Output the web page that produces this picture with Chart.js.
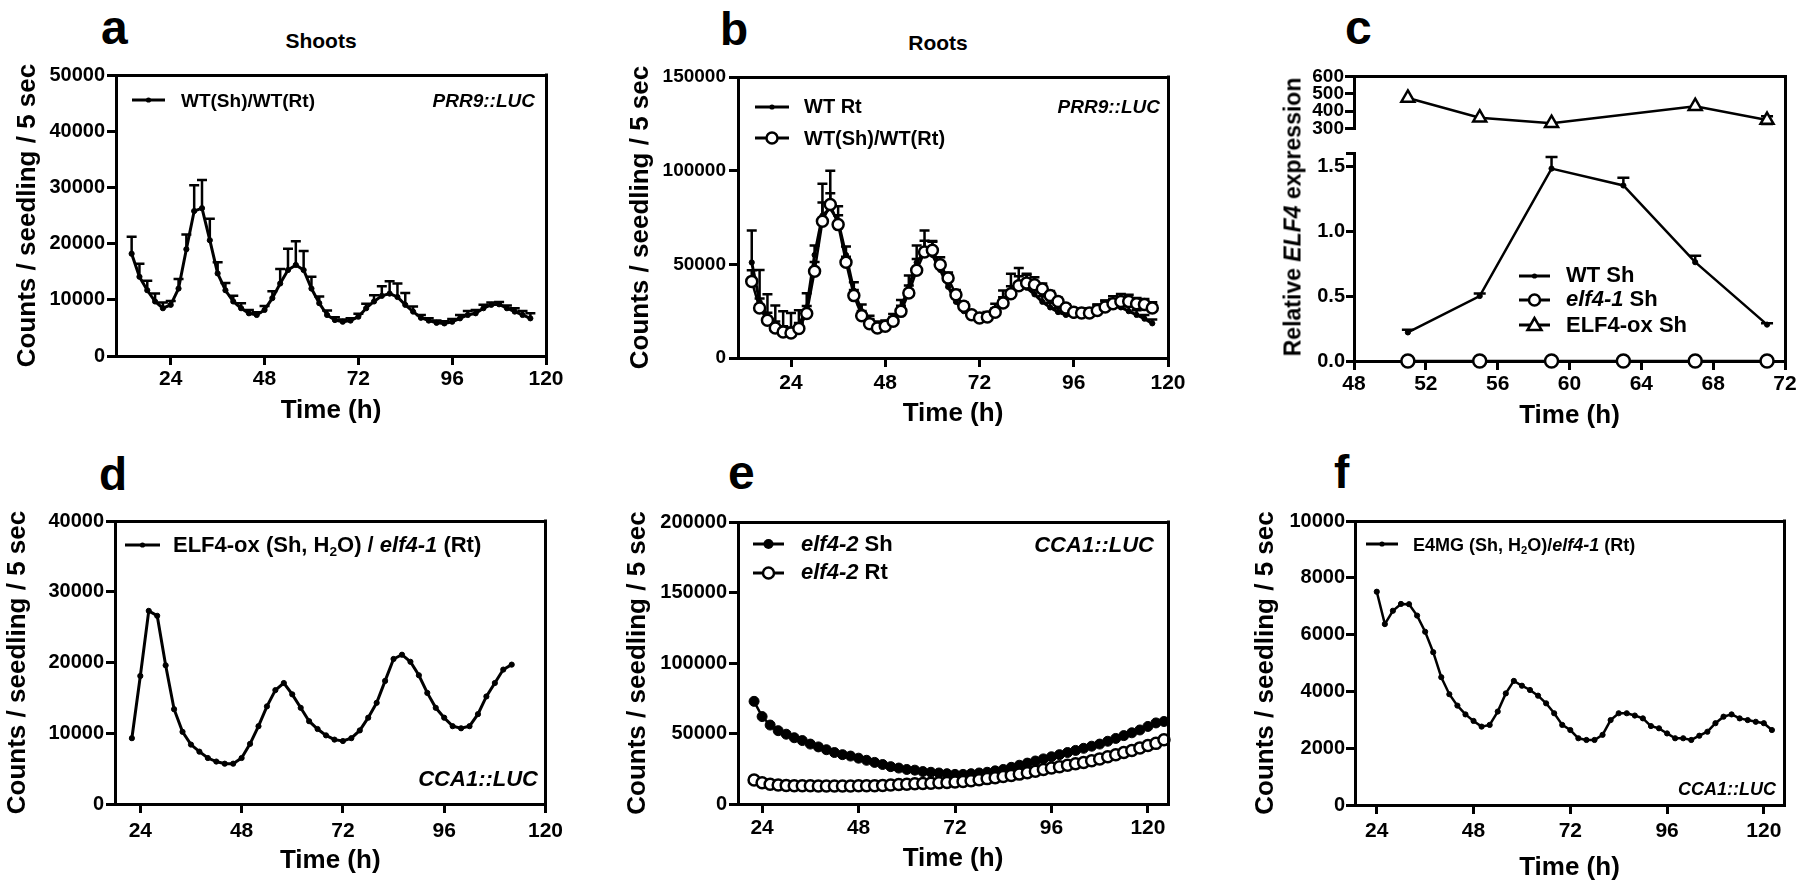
<!DOCTYPE html>
<html><head><meta charset="utf-8">
<script src="https://cdn.jsdelivr.net/npm/chart.js@4.4.1/dist/chart.umd.min.js"></script>
<style>
html,body{margin:0;padding:0;background:#fff;}
body{width:1800px;height:890px;position:relative;overflow:hidden;font-family:"Liberation Sans",Arial,Helvetica,sans-serif;font-weight:bold;color:#000;}
canvas{position:absolute;}
.t{position:absolute;white-space:nowrap;line-height:1;font-weight:bold;}
.t sub{font-size:0.62em;line-height:0;vertical-align:-0.3em;}
svg{position:absolute;overflow:visible;}
</style></head>
<body>
<script>
// ---------------- DATA ----------------
// Panel a: Shoots, PRR9::LUC
const aTime = [14,16,18,20,22,24,26,28,30,32,34,36,38,40,42,44,46,48,50,52,54,56,58,60,62,64,66,68,70,72,74,76,78,80,82,84,86,88,90,92,94,96,98,100,102,104,106,108,110,112,114,116];
const aWT = [18200,14100,11700,9700,8500,9100,12000,19000,25800,26300,20600,14700,11700,9700,8500,7600,7300,8200,10300,12900,15300,16200,15300,12000,9400,7300,6400,6100,6300,7000,8500,9700,10700,11100,10500,9100,7900,6800,6300,5900,5800,6100,6700,7300,7600,8500,9100,9200,8500,7900,7300,6700];
const aWTErr = [3000,2300,1700,1400,1000,700,1700,2600,4600,5000,3800,2000,1300,1000,900,600,500,700,1200,2600,3800,4200,3400,2100,1200,800,500,400,400,500,800,1100,1700,2200,2400,2100,900,500,400,400,400,500,600,700,600,600,400,400,500,600,700,900];

// Panel b: Roots, PRR9::LUC
const bTime = [14,16,18,20,22,24,26,28,30,32,34,36,38,40,42,44,46,48,50,52,54,56,58,60,62,64,66,68,70,72,74,76,78,80,82,84,86,88,90,92,94,96,98,100,102,104,106,108,110,112,114,116];
const bWTRt = [51000,30000,22000,17000,15000,14500,17000,27000,55000,76000,80000,73000,55000,36000,25000,19500,17000,17500,20500,27000,38000,51000,57000,55000,47000,38000,30000,25000,22000,21000,22500,26000,31000,36000,38500,37500,34000,30000,27000,24500,23000,22500,23000,24000,25500,27000,28000,27000,25000,23000,21000,18500];
const bWTRtErr = [17000,17000,12000,11000,10000,9500,8500,7500,5000,17000,20000,8000,4500,4500,3500,3000,2500,2500,3000,4000,6000,9000,11000,7000,4000,3000,2500,2000,1500,1500,2000,3000,5000,9000,9500,7000,4000,3000,2500,2000,2000,2000,2000,2500,3000,3500,3500,3000,2500,2500,2000,2000];
const bGraft = [40900,26700,20100,16000,13900,13300,15700,23700,46300,73000,81900,71200,51100,33300,22600,18300,16000,16900,19600,24900,34700,46800,56600,57500,49800,42700,33800,27600,23100,21400,21900,24400,29400,34300,38600,40000,39100,36800,33300,30200,26700,24400,24000,24000,25400,27200,29000,30200,30200,29000,28500,26700];
const bGraftErr = [6000,5000,4000,3500,3000,3000,3000,4000,5000,10000,6000,5000,3000,3000,2500,2500,2000,2000,2000,3000,4000,6000,6000,5000,4000,3000,2500,2000,1500,1500,1500,2000,3000,4000,5000,5000,4000,3000,2500,2000,2000,2000,2000,2500,3000,3500,4000,4000,3500,3000,3000,3000];

// Panel c: Relative ELF4 expression
const cTime = [51,55,59,63,67,71];
const cWTSh = [0.22,0.50,1.48,1.35,0.76,0.28];
const cWTShErr = [0.02,0.02,0.09,0.06,0.05,0.01];
const cElf41Sh = [0,0,0,0,0,0];
const cOxSh = [476,363,331,null,429,349];
const cOxShErr = [null,null,null,null,null,22];

// Panel d: ELF4-ox (Sh, H2O) / elf4-1 (Rt), CCA1::LUC
const dTime = [22,24,26,28,30,32,34,36,38,40,42,44,46,48,50,52,54,56,58,60,62,64,66,68,70,72,74,76,78,80,82,84,86,88,90,92,94,96,98,100,102,104,106,108,110,112];
const dGraft = [9300,18100,27300,26600,19600,13400,10200,8400,7400,6500,6000,5700,5700,6500,8500,11000,13800,16100,17100,15500,13600,11700,10600,9700,9100,8900,9300,10400,12200,14300,17400,20500,21100,20100,18200,15700,13600,12200,11000,10700,11000,12700,15200,17100,19000,19700];

// Panel e: elf4-2 Sh / Rt, CCA1::LUC
const eTime = [22,24,26,28,30,32,34,36,38,40,42,44,46,48,50,52,54,56,58,60,62,64,66,68,70,72,74,76,78,80,82,84,86,88,90,92,94,96,98,100,102,104,106,108,110,112,114,116,118,120,122,124];
const eSh = [72800,62000,56000,52000,49500,47000,45000,42500,40500,38500,36500,35000,34000,32500,31000,29500,28000,26500,25500,24500,24000,23000,22500,22000,21500,21000,21000,21500,22000,22500,23500,24500,26000,27500,29000,30500,32000,33500,35000,36500,38000,39500,41000,42500,44500,46500,48500,50500,52500,55000,57500,58500];
const eRt = [17000,15000,14000,13500,13200,13000,13000,13000,12800,12800,12800,12800,12800,13000,13000,13000,13200,13500,13800,14000,14300,14500,14800,15000,15300,15600,16000,16500,17200,18000,18700,19500,20300,21200,22200,23300,24400,25500,26500,27500,28500,29500,30700,32000,33500,35000,36500,38000,39800,41500,43000,45500];

// Panel f: E4MG (Sh, H2O)/elf4-1 (Rt), CCA1::LUC
const fTime = [24,26,28,30,32,34,36,38,40,42,44,46,48,50,52,54,56,58,60,62,64,66,68,70,72,74,76,78,80,82,84,86,88,90,92,94,96,98,100,102,104,106,108,110,112,114,116,118,120,122];
const fGraft = [7510,6370,6840,7080,7070,6670,6100,5380,4500,3900,3500,3190,2960,2760,2820,3290,3930,4370,4200,4050,3850,3580,3230,2820,2640,2350,2290,2290,2470,2990,3230,3230,3150,3050,2780,2700,2520,2350,2350,2290,2440,2580,2880,3110,3190,3050,2990,2930,2880,2640];

// Tick labels
const ticksTime = [24,48,72,96,120];
const ticksTimeC = [48,52,56,60,64,68,72];
const ticksA = [0,10000,20000,30000,40000,50000];
const ticksB = [0,50000,100000,150000];
const ticksCTop = [300,400,500,600];
const ticksCBot = [0,0.5,1.0,1.5,1.6];
const ticksD = [0,10000,20000,30000,40000];
const ticksE = [0,50000,100000,150000,200000];
const ticksF = [0,2000,4000,6000,8000,10000];

// ---------------- HELPERS ----------------
const FONT = '"Liberation Sans", Arial, Helvetica, sans-serif';

const frameP = {
  id: 'frame',
  afterDraw(chart, args, o) {
    const ctx = chart.ctx, ca = chart.chartArea;
    ctx.save();
    ctx.strokeStyle = '#000'; ctx.lineWidth = 3; ctx.lineCap = 'square';
    ctx.beginPath();
    if (o.top !== false) { ctx.moveTo(ca.left, Math.round(ca.top) + 0.5); ctx.lineTo(ca.right, Math.round(ca.top) + 0.5); }
    ctx.moveTo(Math.round(ca.right) + 0.5, ca.top - (o.extendTop || 0));
    ctx.lineTo(Math.round(ca.right) + 0.5, ca.bottom);
    ctx.stroke();
    ctx.restore();
  }
};

const errP = {
  id: 'errbars',
  beforeDatasetsDraw(chart) {
    const ctx = chart.ctx;
    chart.data.datasets.forEach((ds, i) => {
      if (!ds.errorBars) return;
      const meta = chart.getDatasetMeta(i);
      const xs = chart.scales[meta.xAxisID], ys = chart.scales[meta.yAxisID];
      ctx.save();
      ctx.strokeStyle = '#000'; ctx.lineWidth = ds.errWidth || 2.5;
      const w = ds.capW || 5;
      ds.data.forEach((p, j) => {
        const e = ds.errorBars[j];
        if (p.y == null || e == null) return;
        const x = xs.getPixelForValue(p.x);
        const y0 = ys.getPixelForValue(p.y);
        const yHi = ys.getPixelForValue(p.y + e);
        const yLo = ds.errBoth ? ys.getPixelForValue(p.y - e) : y0;
        ctx.beginPath();
        ctx.moveTo(x, yLo); ctx.lineTo(x, yHi);
        ctx.moveTo(x - w, yHi); ctx.lineTo(x + w, yHi);
        if (ds.errBoth) { ctx.moveTo(x - w, yLo); ctx.lineTo(x + w, yLo); }
        ctx.stroke();
      });
      ctx.restore();
    });
  }
};

function pts(xs, ys) { return xs.map((x, i) => ({x: x, y: ys[i]})); }

function ds(data, o) {
  return Object.assign({
    data: data, borderColor: '#000', borderWidth: 3, tension: 0, fill: false, clip: false,
    pointRadius: 2.6, pointBackgroundColor: '#000', pointBorderColor: '#000', pointBorderWidth: 1,
    pointStyle: 'circle', spanGaps: true
  }, o);
}

function axisX(o) {
  return {
    type: 'linear', position: 'bottom', min: o.min, max: o.max,
    afterBuildTicks: ax => { ax.ticks = o.ticks.map(v => ({value: v})); },
    afterFit: s => { s.height = o.height; },
    grid: {display: true, drawOnChartArea: false, drawTicks: true, tickLength: 9, tickWidth: 3, tickColor: '#000', color: '#000', lineWidth: 3},
    border: {display: true, color: '#000', width: 3},
    ticks: {color: '#000', font: {family: FONT, size: 21, weight: 'bold'}, padding: o.pad, autoSkip: false, maxRotation: 0, minRotation: 0, callback: v => String(v)},
    title: {display: true, text: 'Time (h)', color: '#000', font: {family: FONT, size: 26, weight: 'bold'}, padding: {top: 0, bottom: 0}}
  };
}

function axisY(o) {
  return {
    type: 'linear', position: 'left', min: o.min, max: o.max,
    afterBuildTicks: ax => { ax.ticks = o.ticks.map(v => ({value: v})); },
    afterFit: s => { s.width = o.width; },
    grid: {display: true, drawOnChartArea: false, drawTicks: true, tickLength: o.tl || 9, tickWidth: 3, tickColor: '#000', color: '#000', lineWidth: 3},
    border: {display: true, color: '#000', width: 3},
    ticks: {color: '#000', font: {family: FONT, size: o.fs || 20, weight: 'bold'}, padding: o.pad, autoSkip: false, callback: o.fmt || (v => String(v))},
    title: o.title ? {display: true, text: o.title, color: '#000', font: {family: FONT, size: 26, weight: 'bold'}, padding: {top: 0, bottom: 0}} : {display: false}
  };
}

function panel(box, datasets, xc, yc, frameOpts) {
  const left = box.L - box.Wy, top = box.T - box.pt;
  const w = box.Wy + (box.R - box.L) + box.pr;
  const h = box.pt + (box.B - box.T) + (xc.hidden ? box.pb : box.Hx);
  const cv = document.createElement('canvas');
  cv.width = w; cv.height = h;
  cv.style.left = left + 'px'; cv.style.top = top + 'px';
  cv.style.width = w + 'px'; cv.style.height = h + 'px';
  document.body.appendChild(cv);
  new Chart(cv.getContext('2d'), {
    type: 'line',
    data: {datasets: datasets},
    options: {
      responsive: false, animation: false, events: [], devicePixelRatio: 1,
      layout: {autoPadding: false, padding: {left: 0, top: box.pt, right: box.pr, bottom: xc.hidden ? box.pb : 0}},
      plugins: {legend: {display: false}, tooltip: {enabled: false}, frame: frameOpts || {}},
      scales: {
        x: xc.hidden ? {type: 'linear', display: false, min: xc.min, max: xc.max} : axisX(Object.assign({height: box.Hx}, xc)),
        y: axisY(Object.assign({width: box.Wy}, yc))
      }
    },
    plugins: [frameP, errP]
  });
}

function txt(html, x, base, size, align, extra) {
  const d = document.createElement('div');
  d.className = 't';
  d.innerHTML = html;
  d.style.fontSize = size + 'px';
  d.style.top = (base - 0.8465 * size) + 'px';
  if (align === 'right') { d.style.right = (1800 - x) + 'px'; }
  else if (align === 'center') { d.style.left = x + 'px'; d.style.transform = 'translateX(-50%)'; }
  else { d.style.left = x + 'px'; }
  if (extra) Object.assign(d.style, extra);
  document.body.appendChild(d);
  return d;
}

function sample(x1, x2, y, marker) {
  const NS = 'http://www.w3.org/2000/svg';
  const s = document.createElementNS(NS, 'svg');
  const W = x2 - x1;
  s.setAttribute('width', W); s.setAttribute('height', 20);
  s.style.left = x1 + 'px'; s.style.top = (y - 10) + 'px';
  let inner = '<line x1="0" y1="10" x2="' + W + '" y2="10" stroke="#000" stroke-width="3"/>';
  const cx = W / 2;
  if (marker === 'dot') inner += '<circle cx="' + cx + '" cy="10" r="2.6" fill="#000"/>';
  if (marker === 'open') inner += '<circle cx="' + cx + '" cy="10" r="5.5" fill="#fff" stroke="#000" stroke-width="2.5"/>';
  if (marker === 'filled') inner += '<circle cx="' + cx + '" cy="10" r="5" fill="#000"/>';
  if (marker === 'tri') inner += '<polygon points="' + cx + ',3 ' + (cx - 7) + ',15 ' + (cx + 7) + ',15" fill="#fff" stroke="#000" stroke-width="2.5"/>';
  s.innerHTML = inner;
  document.body.appendChild(s);
}

// ---------------- PANEL a ----------------
panel({L: 116, R: 546, T: 75, B: 356, Wy: 104, pt: 16, pr: 22, Hx: 70},
  [ds(pts(aTime, aWT), {errorBars: aWTErr, capW: 5})],
  {min: 10, max: 120, ticks: ticksTime, pad: 2},
  {min: 0, max: 50000, ticks: ticksA, pad: 2, title: 'Counts / seedling / 5 sec'});

// ---------------- PANEL b ----------------
panel({L: 738, R: 1168, T: 77, B: 358, Wy: 113, pt: 16, pr: 22, Hx: 71},
  [ds(pts(bTime, bGraft), {order: 0, borderWidth: 2.5, pointRadius: 5.5, pointBackgroundColor: '#fff', pointBorderWidth: 2.5, errorBars: bGraftErr, capW: 5}),
   ds(pts(bTime, bWTRt), {order: 1, errorBars: bWTRtErr, capW: 5})],
  {min: 10.5, max: 120, ticks: ticksTime, pad: 4},
  {min: 0, max: 150000, ticks: ticksB, pad: 3, fs: 19, title: 'Counts / seedling / 5 sec'});

// ---------------- PANEL c (broken axis: two stacked charts) ----------------
panel({L: 1354, R: 1785, T: 76, B: 131, Wy: 60, pt: 12, pr: 14, pb: 10},
  [ds(pts(cTime, cOxSh), {borderWidth: 2.5, pointStyle: 'triangle', pointRadius: 7.5, pointBackgroundColor: '#fff', pointBorderWidth: 2.5, errorBars: cOxShErr, errBoth: true, capW: 6})],
  {hidden: true, min: 48, max: 72},
  {min: 300, max: 600, ticks: ticksCTop, pad: 1, tl: 9, fs: 19},
  {top: true});
panel({L: 1354, R: 1785, T: 153, B: 361, Wy: 60, pt: 24, pr: 14, Hx: 70},
  [ds(pts(cTime, cElf41Sh), {order: 0, borderWidth: 2.5, pointRadius: 6.5, pointBackgroundColor: '#fff', pointBorderWidth: 2.5}),
   ds(pts(cTime, cWTSh), {order: 1, borderWidth: 2.5, errorBars: cWTShErr, capW: 6})],
  {min: 48, max: 72, ticks: ticksTimeC, pad: 2},
  {min: 0, max: 1.6, ticks: ticksCBot, pad: 1, tl: 8, fmt: v => (v === 1.6 ? '' : v.toFixed(1))},
  {top: false, extendTop: 22});

// ---------------- PANEL d ----------------
panel({L: 115, R: 547, T: 521, B: 804, Wy: 113, pt: 16, pr: 22, Hx: 72},
  [ds(pts(dTime, dGraft), {})],
  {min: 18, max: 120, ticks: ticksTime, pad: 6},
  {min: 0, max: 40000, ticks: ticksD, pad: 2, title: 'Counts / seedling / 5 sec'});

// ---------------- PANEL e ----------------
panel({L: 738, R: 1168, T: 522, B: 804, Wy: 116, pt: 16, pr: 22, Hx: 70},
  [ds(pts(eTime, eRt), {order: 0, borderWidth: 2.5, pointRadius: 5.5, pointBackgroundColor: '#fff', pointBorderWidth: 2.5}),
   ds(pts(eTime, eSh), {order: 1, borderWidth: 2.5, pointRadius: 5})],
  {min: 18, max: 125, ticks: ticksTime, pad: 3},
  {min: 0, max: 200000, ticks: ticksE, pad: 2, title: 'Counts / seedling / 5 sec'});

// ---------------- PANEL f ----------------
panel({L: 1355, R: 1784, T: 521, B: 805, Wy: 105, pt: 16, pr: 15, Hx: 78},
  [ds(pts(fTime, fGraft), {borderWidth: 2.5})],
  {min: 18.6, max: 125, ticks: ticksTime, pad: 5},
  {min: 0, max: 10000, ticks: ticksF, pad: 1, title: 'Counts / seedling / 5 sec'});

// ---------------- TEXT / LEGENDS ----------------
// panel letters
txt('a', 101, 45, 48, 'left');
txt('b', 720, 45, 46, 'left');
txt('c', 1345, 45, 48, 'left');
txt('d', 99, 490, 46, 'left');
txt('e', 728, 490, 48, 'left');
txt('f', 1334, 488, 46, 'left');

// titles
txt('Shoots', 321, 48, 21, 'center');
txt('Roots', 938, 50, 21, 'center');

// c y-axis title (with italic gene name)
(function(){
  const d = document.createElement('div');
  d.className = 't';
  d.innerHTML = 'Relative <i>ELF4</i> expression';
  d.style.fontSize = '23px';
  d.style.left = '1293px'; d.style.top = '217px';
  d.style.transform = 'translate(-50%,-50%) rotate(-90deg)';
  document.body.appendChild(d);
})();

// a legend
sample(132, 165, 100, 'dot');
txt('WT(Sh)/WT(Rt)', 181, 107, 19, 'left');
txt('<i>PRR9::LUC</i>', 535, 107, 19, 'right');

// b legend
sample(755, 789, 107, 'dot');
txt('WT Rt', 804, 113, 20, 'left');
sample(755, 789, 138, 'open');
txt('WT(Sh)/WT(Rt)', 804, 145, 20, 'left');
txt('<i>PRR9::LUC</i>', 1160, 113, 19, 'right');

// c legend
sample(1519, 1550, 276, 'dot');
txt('WT Sh', 1566, 283, 22, 'left');
sample(1519, 1550, 300, 'open');
txt('<i>elf4-1</i> Sh', 1566, 307, 22, 'left');
sample(1519, 1550, 325, 'tri');
txt('ELF4-ox Sh', 1566, 333, 22, 'left');

// d legend
sample(125, 160, 545, 'dot');
txt('ELF4-ox (Sh, H<sub>2</sub>O) / <i>elf4-1</i> (Rt)', 173, 553, 22, 'left');
txt('<i>CCA1::LUC</i>', 538, 787, 22, 'right');

// e legend
sample(753, 784, 544, 'filled');
txt('<i>elf4-2</i> Sh', 801, 552, 22, 'left');
sample(753, 784, 573, 'open');
txt('<i>elf4-2</i> Rt', 801, 580, 22, 'left');
txt('<i>CCA1::LUC</i>', 1154, 553, 22, 'right');

// f legend
sample(1366, 1398, 544, 'dot');
txt('E4MG (Sh, H<sub>2</sub>O)/<i>elf4-1</i> (Rt)', 1413, 551, 18, 'left');
txt('<i>CCA1::LUC</i>', 1776, 795, 18, 'right');
</script>
</body></html>
